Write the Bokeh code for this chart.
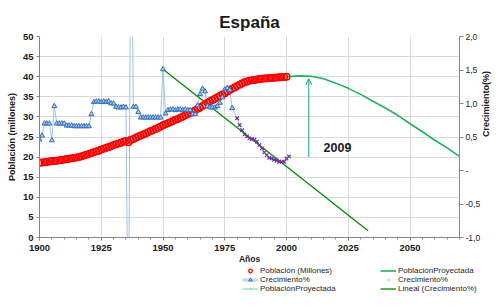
import math
from bokeh.plotting import figure
from bokeh.models import (Range1d, LinearAxis, SingleIntervalTicker, CustomJSTickFormatter,
                          Legend, LegendItem, Arrow, OpenHead, Label)
from bokeh.embed import file_html
from bokeh.resources import INLINE

FONT = "Liberation Sans"

# ---------------- data ----------------
pop_years = list(range(1900, 2001))
pop_values = [
    18.6, 18.65, 18.7, 18.8, 18.9, 19.0, 19.05, 19.1, 19.2, 19.3,
    19.4, 19.5, 19.6, 19.7, 19.8, 19.9, 20.0, 20.2, 20.4, 20.6,
    20.8, 21.0, 21.2, 21.4, 21.6, 21.9, 22.1, 22.3, 22.5, 22.7,
    23.0, 23.2, 23.4, 23.6, 23.8, 24.0, 23.7, 24.3, 24.5, 24.8,
    25.1, 25.4, 25.6, 25.9, 26.2, 26.5, 26.7, 27.0, 27.3, 27.6,
    27.9, 28.2, 28.4, 28.7, 29.0, 29.3, 29.5, 29.8, 30.1, 30.4,
    30.7, 31.0, 31.3, 31.6, 32.0, 32.3, 32.7, 33.1, 33.5, 33.9,
    34.2, 34.5, 34.9, 35.2, 35.6, 35.9, 36.3, 36.7, 37.0, 37.3,
    37.7, 38.0, 38.3, 38.6, 38.8, 39.0, 39.1, 39.2, 39.3, 39.4,
    39.5, 39.55, 39.6, 39.65, 39.7, 39.75, 39.8, 39.85, 39.9, 39.95,
    40.0,
]

growth_years = list(range(1900, 1979))
growth_values = [
    0.46, 0.52, 0.70, 0.70, 0.70, 0.45, 0.96, 0.70, 0.70, 0.70,
    0.70, 0.67, 0.67, 0.67, 0.66, 0.66, 0.66, 0.66, 0.66, 0.66,
    0.66, 0.84, 1.02, 1.03, 1.03, 1.02, 1.03, 1.02, 1.03, 1.00,
    1.00, 0.95, 0.94, 0.94, 0.95, 0.94, -3.0, 4.5, 0.95, 0.95,
    0.87, 0.79, 0.79, 0.79, 0.79, 0.79, 0.79, 0.79, 0.79, 0.79,
    1.51, 0.85, 0.90, 0.91, 0.91, 0.90, 0.91, 0.91, 0.90, 0.91,
    0.90, 0.90, 0.84, 0.84, 0.97, 1.14, 1.22, 1.18, 0.96, 0.94,
    0.94, 0.94, 0.96, 1.01, 1.09, 1.21, 1.23, 1.20, 0.93,
]

growth_x_years = list(range(1980, 2002))
growth_x_values = [
    0.78, 0.68, 0.60, 0.54, 0.51, 0.48, 0.47, 0.46, 0.43, 0.38, 0.33,
    0.27, 0.23, 0.19, 0.18, 0.16, 0.15, 0.13, 0.13, 0.13, 0.18, 0.21,
]

proj_years = [2000, 2005, 2010, 2015, 2020, 2025, 2030, 2035, 2040, 2045,
              2050, 2055, 2060, 2065, 2070]
proj_values = [40.0, 40.2, 40.1, 39.5, 38.4, 37.1, 35.6, 33.9, 32.2, 30.4,
               28.3, 26.3, 24.2, 22.3, 20.2]

trend_years = [1950, 2033]
trend_values = [1.51, -0.90]

arrow_year = 2009
arrow_from = 20.0
arrow_to = 39.5
note_text = "2009"
note_x = 2015
note_y = 22.3

title_text = "España"
x_title = "Años"
y_title = "Población (millones)"
y2_title = "Crecimiento(%)"
legend_labels = ["Población (Millones)", "Crecimiento%", "PoblaciónProyectada",
                 "PoblaciónProyectada", "Crecimiento%", "Lineal (Crecimiento%)"]

# ---------------- colours ----------------
RED = "#ff0000"
BLUE_LINE = "#9dc3e6"
BLUE_MARK = "#2f6fba"
BLUE_FILL = "#a9c8ec"
PURPLE = "#7030a0"
TREND = "#008a00"
PROJ = "#1fb35a"
ARROW = "#22b07e"
MINT = "#9fe6c4"
AXIS = "#868686"
GRID = "#d9d9d9"
TXT = "#1a1a1a"

p = figure(width=499, height=266, x_range=Range1d(1900, 2070), y_range=Range1d(0, 50),
           output_backend="svg", toolbar_location=None,
           min_border_left=39, min_border_right=40, min_border_top=36, min_border_bottom=28,
           title=title_text)
p.outline_line_color = None
p.title.text_font = FONT
p.title.text_font_size = "17px"
p.title.text_font_style = "bold"
p.title.align = "center"
p.title.text_color = TXT

p.extra_y_ranges = {"g": Range1d(-1, 2)}

xt = SingleIntervalTicker(interval=25, num_minor_ticks=5)
yt = SingleIntervalTicker(interval=5, num_minor_ticks=0)
xa = p.xaxis[0]
ya = p.yaxis[0]
xa.ticker = xt
ya.ticker = yt
p.xgrid.ticker = xt
p.ygrid.ticker = yt
for g in (p.xgrid, p.ygrid):
    g.grid_line_color = GRID
    g.grid_line_width = 1

ry = LinearAxis(y_range_name="g", ticker=SingleIntervalTicker(interval=0.5, num_minor_ticks=0),
                formatter=CustomJSTickFormatter(code="""
                    if (Math.abs(tick) < 1e-9) { return "-"; }
                    return tick.toFixed(1).replace(".", ",");
                """))
p.add_layout(ry, "right")

for ax in (xa, ya, ry):
    ax.axis_line_color = AXIS
    ax.major_tick_line_color = AXIS
    ax.minor_tick_line_color = AXIS
    ax.major_tick_in = 0
    ax.major_tick_out = 3
    ax.minor_tick_in = 0
    ax.minor_tick_out = 2
    ax.major_label_text_font = FONT
    ax.major_label_text_color = TXT
    ax.axis_label_text_font = FONT
    ax.axis_label_text_font_style = "bold"
    ax.axis_label_text_color = TXT
    ax.axis_label_text_font_size = "9px"

xa.major_label_text_font_size = "9.5px"
xa.major_label_text_font_style = "bold"
xa.major_label_standoff = 4
xa.axis_label = x_title
xa.axis_label_standoff = 0
xa.axis_label_text_font_size = "8.5px"

ya.major_label_text_font_size = "9.5px"
ya.major_label_text_font_style = "bold"
ya.major_label_standoff = 3
ya.axis_label = y_title
ya.axis_label_standoff = 3

ry.major_label_text_font_size = "8.5px"
ry.major_label_standoff = 2
ry.major_tick_out = 4
ry.axis_label = y2_title
ry.axis_label_standoff = 3
try:
    ry.axis_label_orientation = math.pi / 2
except Exception:
    pass

# ---------------- glyphs ----------------
blue_line = p.line(growth_years + growth_x_years, growth_values + growth_x_values,
                   line_color=BLUE_LINE, line_width=1, y_range_name="g")
trend = p.line(trend_years, trend_values, line_color=TREND, line_width=1.3, y_range_name="g")
proj = p.line(proj_years, proj_values, line_color=PROJ, line_width=1.6)
pop = p.scatter(pop_years, pop_values, marker="circle", size=6.5, line_color=RED,
                line_width=1.5, fill_color=None)
tri = p.scatter(growth_years, growth_values, marker="triangle", size=5, line_color=BLUE_MARK,
                fill_color=BLUE_FILL, line_width=1, y_range_name="g")
xs = p.scatter(growth_x_years, growth_x_values, marker="x", size=5, line_color=PURPLE,
               line_width=1.2, y_range_name="g")

arrow = Arrow(end=OpenHead(size=6, line_color=ARROW, line_width=1.1),
              x_start=arrow_year, y_start=arrow_from, x_end=arrow_year, y_end=arrow_to,
              line_color=ARROW, line_width=1.1)
p.add_layout(arrow)

note = Label(x=note_x, y=note_y, text=note_text, text_font=FONT, text_font_size="12.5px",
             text_font_style="bold", text_baseline="middle", text_align="left", text_color=TXT)
p.add_layout(note)

# ---------------- legend strip: a second root whose ranges keep its series out of view ----------------
lf = figure(width=499, height=40, output_backend="svg", toolbar_location=None,
            min_border=0, x_axis_type=None, y_axis_type=None,
            x_range=Range1d(0, 1), y_range=Range1d(0, 1))
lf.outline_line_color = None
lf.xgrid.visible = False
lf.ygrid.visible = False

l_pop = lf.scatter(pop_years, pop_values, marker="circle", size=5, line_color=RED,
                   line_width=1.3, fill_color=None)
l_blue = lf.line(growth_years, growth_values, line_color="#bdd7ee", line_width=3)
l_tri = lf.scatter(growth_years, growth_values, marker="triangle", size=5, line_color=BLUE_MARK,
                   fill_color=BLUE_FILL, line_width=1)
l_mint = lf.line([arrow_year, arrow_year], [arrow_from, arrow_to], line_color=MINT, line_width=1.5)
l_mint_m = lf.scatter([arrow_year], [arrow_from], marker="cross", size=4, line_color=MINT)
l_proj = lf.line(proj_years, proj_values, line_color=PROJ, line_width=1.6)
l_x = lf.scatter(growth_x_years, growth_x_values, marker="x", size=5, line_color="#bfbfbf",
                 line_width=1)
l_trend = lf.line(trend_years, trend_values, line_color=TREND, line_width=1.3)

def make_legend(items, x):
    lg = Legend(items=items, location=(x, 13))
    lg.label_text_font = FONT
    lg.label_text_font_size = "8px"
    lg.label_text_color = "#262626"
    lg.glyph_width = 16
    lg.glyph_height = 9
    lg.label_height = 9
    lg.label_standoff = 2
    lg.spacing = 0
    lg.padding = 0
    lg.margin = 0
    lg.border_line_color = None
    lg.background_fill_alpha = 0
    return lg

leg1 = make_legend([
    LegendItem(label=legend_labels[0], renderers=[l_pop]),
    LegendItem(label=legend_labels[1], renderers=[l_blue, l_tri]),
    LegendItem(label=legend_labels[2], renderers=[l_mint, l_mint_m]),
], 242)
leg2 = make_legend([
    LegendItem(label=legend_labels[3], renderers=[l_proj]),
    LegendItem(label=legend_labels[4], renderers=[l_x]),
    LegendItem(label=legend_labels[5], renderers=[l_trend]),
], 380)
lf.add_layout(leg1)
lf.add_layout(leg2)

open("out.html", "w").write(file_html([p, lf], INLINE))
